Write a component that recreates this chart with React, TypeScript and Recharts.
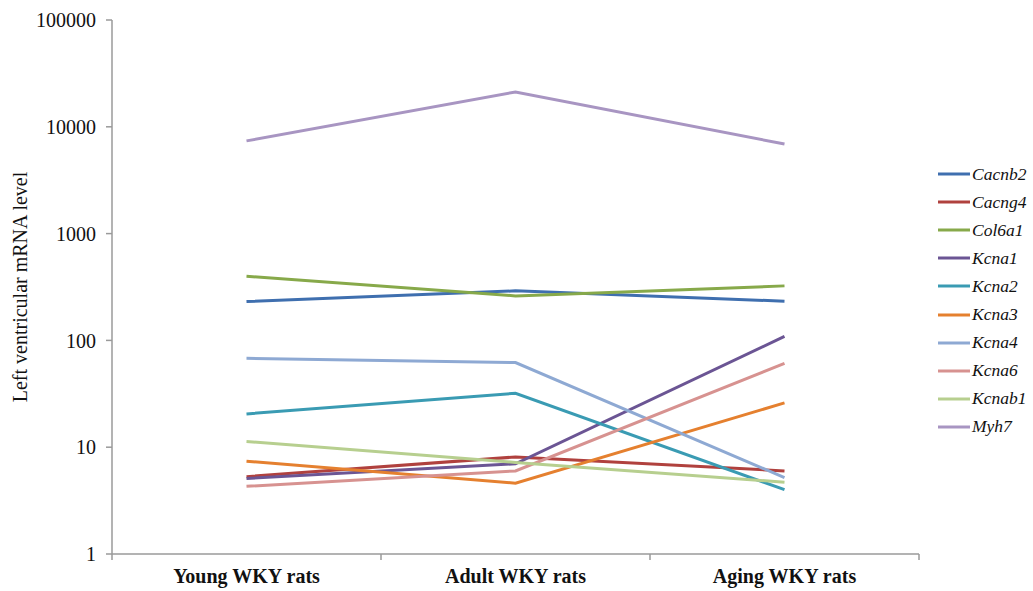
import React from "react";
import { LineChart, Line, XAxis, YAxis, Legend } from "recharts";

// age groups on the x axis
const groups = ["Young WKY rats", "Adult WKY rats", "Aging WKY rats"];

// mRNA levels per gene (young, adult, aging)
const cacnb2 = [231, 291, 233];
const cacng4 = [5.3, 8.1, 6.0];
const col6a1 = [399, 261, 324];
const kcna1 = [5.1, 7.0, 109];
const kcna2 = [20.5, 32, 4.0];
const kcna3 = [7.4, 4.6, 26];
const kcna4 = [68, 62, 5.2];
const kcna6 = [4.3, 6.0, 61];
const kcnab1 = [11.3, 7.2, 4.7];
const myh7 = [7380, 21200, 6900];

const yTicks = [1, 10, 100, 1000, 10000, 100000];

const series = [
  { key: "Cacnb2", values: cacnb2, color: "#3F6FAF" },
  { key: "Cacng4", values: cacng4, color: "#B0413E" },
  { key: "Col6a1", values: col6a1, color: "#87A94A" },
  { key: "Kcna1", values: kcna1, color: "#6B5594" },
  { key: "Kcna2", values: kcna2, color: "#3A9BB3" },
  { key: "Kcna3", values: kcna3, color: "#E5802F" },
  { key: "Kcna4", values: kcna4, color: "#8EA9D3" },
  { key: "Kcna6", values: kcna6, color: "#D79290" },
  { key: "Kcnab1", values: kcnab1, color: "#B7CF8F" },
  { key: "Myh7", values: myh7, color: "#A895C2" },
];

const data = groups.map((name, i) => {
  const row: Record<string, number | string> = { name, x: i + 0.5 };
  series.forEach((s) => {
    row[s.key] = s.values[i];
  });
  return row;
});

const FONT = "'Liberation Serif', 'Times New Roman', serif";
const AXIS = "#9A9A9A";

// boundary ticks on whole numbers, group labels in the middle of each band
const XTick = (props: any) => {
  const { x, y, payload } = props;
  const v = payload.value as number;
  if (Number.isInteger(v)) {
    return <line x1={x} x2={x} y1={y} y2={y + 6} stroke={AXIS} strokeWidth={1.5} />;
  }
  return (
    <text
      x={x}
      y={y + 29}
      textAnchor="middle"
      fontFamily={FONT}
      fontSize={20}
      fontWeight="bold"
      fill="#111"
    >
      {groups[Math.floor(v)]}
    </text>
  );
};

const LegendBox = () => (
  <div style={{ fontFamily: FONT }}>
    {series.map((s) => (
      <div
        key={s.key}
        style={{ display: "flex", alignItems: "center", height: 28.1 }}
      >
        <svg width={32} height={6} style={{ marginRight: 2 }}>
          <line x1={0} x2={32} y1={3} y2={3} stroke={s.color} strokeWidth={3} />
        </svg>
        <span style={{ fontStyle: "italic", fontSize: 17.5, color: "#111" }}>
          {s.key}
        </span>
      </div>
    ))}
  </div>
);

export default function App() {
  return (
    <div style={{ position: "absolute", left: 0, top: 0, background: "#fff" }}>
      <LineChart
        width={1033}
        height={591}
        data={data}
        margin={{ top: 20, right: 114, bottom: 0, left: 0 }}
      >
        <XAxis
          dataKey="x"
          type="number"
          domain={[0, 3]}
          ticks={[0, 0.5, 1, 1.5, 2, 2.5, 3]}
          interval={0}
          tick={<XTick />}
          tickLine={false}
          tickSize={0}
          tickMargin={0}
          height={37}
          axisLine={{ stroke: AXIS, strokeWidth: 1.5 }}
        />
        <YAxis
          type="number"
          scale="log"
          domain={[1, 100000]}
          ticks={yTicks}
          interval={0}
          allowDataOverflow
          width={112}
          tickSize={6}
          tickMargin={10}
          axisLine={{ stroke: AXIS, strokeWidth: 1.5 }}
          tickLine={{ stroke: AXIS, strokeWidth: 1.5 }}
          tick={{ fontFamily: FONT, fontSize: 20, fill: "#111" }}
          label={{
            value: "Left ventricular mRNA level",
            angle: -90,
            position: "insideLeft",
            offset: 20,
            style: { fontFamily: FONT, fontSize: 20, fill: "#111", textAnchor: "middle" },
          }}
        />
        <Legend
          layout="horizontal"
          verticalAlign="middle"
          align="center"
          content={<LegendBox />}
          wrapperStyle={{ left: 938, top: 160, width: 95, height: 285 }}
        />
        {series.map((s) => (
          <Line
            key={s.key}
            dataKey={s.key}
            stroke={s.color}
            strokeWidth={3}
            dot={false}
            activeDot={false}
            type="linear"
            isAnimationActive={false}
          />
        ))}
      </LineChart>
    </div>
  );
}
